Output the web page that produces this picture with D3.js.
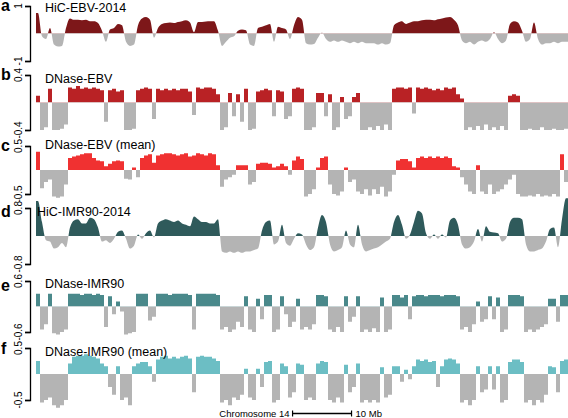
<!DOCTYPE html>
<html>
<head>
<meta charset="utf-8">
<script src="https://cdn.jsdelivr.net/npm/d3@7"></script>
<style>
body { margin: 0; background: #fff; }
svg { display: block; font-family: "Liberation Sans", Arial, sans-serif; }
</style>
</head>
<body>
<div id="chart"></div>
<script>
// track values, one per bin along chromosome 14
var hicEbv = [0.75,-0.1,-0.2,0.2,-0.4,-0.47,-0.45,0.2,0.55,0.5,
    0.5,0.48,0.5,0.45,0.45,0.38,0.1,-0.3,0.15,0.2,
    0.35,0.3,-0.3,-0.45,-0.4,0.3,0.55,0.6,0.5,-0.15,
    0.2,0.35,0.38,0.4,0.38,0.42,0.45,0.48,0.4,0.05,
    0.42,0.42,0.44,0.45,0.45,0.1,-0.45,-0.3,-0.15,-0.1,
    0.1,0.15,0.12,-0.4,-0.45,0.2,0.25,0.3,0.35,-0.3,
    0.25,0.2,0.15,-0.2,0.3,0.6,0.5,-0.35,-0.4,-0.38,
    -0.15,0.03,-0.2,-0.3,-0.25,-0.3,-0.25,-0.3,-0.35,-0.3,
    -0.35,-0.3,-0.35,-0.35,-0.35,-0.4,-0.35,-0.4,-0.35,0.3,
    0.4,0.45,0.35,0.4,0.45,0.45,0.48,0.5,0.5,0.48,
    0.52,0.55,0.58,0.6,0.5,0.3,-0.25,-0.35,-0.3,-0.4,
    -0.3,-0.25,-0.3,-0.2,0.05,-0.2,-0.35,-0.25,0.35,0.45,
    0.4,0.1,-0.3,-0.2,0.4,-0.2,-0.4,-0.35,-0.35,-0.3,
    -0.35,-0.3,-0.3];
var dnaseEbv = [0.1,-0.4,-0.36,0.2,-0.4,-0.4,-0.38,-0.32,0.22,0.2,
    0.24,0.2,0.22,0.2,0.22,0.2,0.18,-0.28,0.18,0.2,
    0.16,0.18,-0.4,-0.4,-0.38,0.18,0.2,0.22,0.2,-0.24,
    0.2,0.18,0.2,0.18,0.2,0.18,0.2,0.2,0.16,-0.18,
    0.22,0.2,0.22,0.22,0.2,0.12,-0.4,-0.36,0.14,-0.2,
    0.12,-0.28,0.2,-0.4,-0.38,0.16,0.18,0.2,0.18,-0.2,
    0.18,0.16,-0.24,-0.2,0.2,0.22,0.2,-0.4,-0.4,-0.36,
    0.14,0.14,-0.2,0.12,-0.4,-0.36,0.08,-0.24,-0.2,0.08,
    0.14,-0.4,-0.4,-0.36,-0.4,-0.34,-0.4,-0.32,-0.4,0.2,
    0.22,0.22,0.2,0.22,-0.16,0.22,0.2,0.22,0.2,0.18,
    0.2,0.18,0.22,0.2,0.22,0.12,0.06,-0.4,-0.36,-0.4,
    -0.34,-0.4,-0.32,-0.4,-0.36,-0.4,-0.34,-0.4,0.1,0.12,
    0.1,-0.4,-0.4,-0.38,-0.4,-0.4,-0.36,-0.4,-0.4,-0.38,
    -0.4,-0.4,-0.38];
var dnaseEbvMean = [0.38,-0.38,-0.25,-0.2,-0.55,-0.58,-0.55,-0.3,0.25,0.28,
    0.3,0.33,0.35,0.35,0.25,0.2,0.18,0.08,0.13,0.18,
    0.2,0.18,-0.18,-0.2,0.05,-0.15,0.25,0.3,0.33,0.15,
    0.3,0.33,0.35,0.35,0.33,0.3,0.33,0.35,0.28,0.3,
    0.35,0.33,0.3,0.35,0.33,0.1,-0.35,-0.2,-0.15,-0.1,
    0.1,0.1,0.1,-0.3,-0.25,0.13,0.15,0.15,0.13,0.05,
    0.08,0.13,0.08,-0.1,0.2,0.28,0.23,-0.55,-0.5,-0.4,
    0.05,0.25,0.28,-0.3,-0.5,-0.53,-0.45,0.05,-0.25,-0.2,
    -0.45,-0.5,-0.4,-0.53,-0.4,-0.5,-0.35,-0.55,-0.45,-0.1,
    0.2,0.23,0.23,0.18,0.05,0.25,0.28,0.25,0.28,0.25,
    0.28,0.25,0.28,0.25,0.08,0.05,-0.15,-0.3,-0.45,-0.5,
    0.1,-0.45,-0.5,-0.3,-0.5,-0.45,-0.4,-0.3,-0.2,-0.1,
    -0.5,-0.55,-0.55,-0.53,-0.55,-0.5,-0.55,-0.53,-0.55,-0.5,
    -0.55,0.33,-0.25];
var hicImr90 = [1.0,0.4,-0.12,-0.16,-0.36,-0.32,-0.2,-0.32,0.24,0.44,
    0.48,0.36,0.36,0.52,0.48,0.24,-0.16,-0.12,-0.2,-0.08,
    0.12,0.16,-0.08,-0.36,-0.28,0.04,-0.08,0.08,0.16,-0.04,
    0.36,0.44,0.48,0.44,0.4,0.44,0.36,0.32,0.28,0.56,
    0.48,0.4,0.4,0.36,0.36,0.48,-0.44,-0.48,-0.44,-0.48,
    -0.44,-0.48,-0.44,-0.44,-0.4,-0.36,0.16,0.4,0.44,-0.24,
    -0.16,0.32,-0.2,-0.28,-0.08,0.08,0.04,-0.24,-0.4,-0.32,
    0.24,0.6,0.4,-0.24,-0.44,-0.4,-0.32,0.16,-0.24,-0.32,
    0.32,-0.24,-0.44,-0.4,-0.36,-0.32,-0.24,-0.16,-0.08,0.4,
    0.6,0.32,-0.08,0.04,0.4,0.72,0.64,0.08,-0.08,0.04,
    -0.08,0.04,-0.04,0.44,0.52,0.32,-0.24,-0.36,-0.32,-0.16,
    0.2,-0.16,0.28,0.12,0.1,0.08,-0.16,-0.08,0.4,0.52,
    0.52,0.48,-0.24,-0.44,-0.44,-0.4,-0.36,-0.16,0.2,0.24,
    -0.32,0.48,1.08];
var dnaseImr90 = [0.3,-0.54,-0.42,0.3,-0.63,-0.66,-0.6,-0.54,0.3,0.3,
    0.3,0.27,0.3,0.3,0.27,0.3,0.27,-0.48,0.24,-0.18,
    0.12,-0.12,-0.66,-0.63,-0.6,0.3,0.3,0.3,-0.33,-0.24,
    0.3,0.3,0.3,0.27,0.3,0.3,0.3,0.3,0.27,-0.54,
    0.3,0.3,0.3,0.3,0.3,0.27,-0.54,-0.48,-0.6,-0.54,
    -0.36,-0.48,0.24,-0.54,-0.6,0.18,-0.3,0.27,0.27,-0.6,
    -0.54,0.24,-0.18,-0.48,-0.36,0.18,-0.54,-0.48,-0.54,-0.42,
    0.27,0.27,0.24,-0.54,-0.6,-0.48,-0.6,0.24,-0.36,-0.24,
    0.24,-0.6,-0.54,-0.6,-0.51,-0.6,0.21,-0.6,-0.54,0.27,
    0.27,0.21,0.27,-0.3,0.24,0.27,0.27,0.24,0.27,0.27,
    0.27,0.24,0.27,0.27,0.27,0.24,-0.54,-0.48,-0.6,-0.42,
    0.12,-0.36,-0.3,0.24,-0.3,0.21,-0.6,-0.54,0.27,0.27,
    0.27,0.24,-0.6,-0.54,-0.6,-0.54,-0.48,-0.42,0.18,0.18,
    -0.36,0.27,0.27];
var dnaseImr90Mean = [0.25,-0.55,-0.5,-0.45,-0.6,-0.65,-0.6,-0.5,0.2,0.33,
    0.35,0.35,0.38,0.35,0.33,0.3,0.2,0.15,-0.25,-0.4,
    0.15,-0.5,-0.45,-0.6,0.15,0.2,0.23,0.23,0.15,-0.15,
    0.28,0.33,0.35,0.3,0.33,0.3,0.33,0.35,0.3,-0.35,
    0.33,0.35,0.33,0.33,0.3,0.25,-0.55,-0.5,-0.6,-0.45,
    -0.5,-0.4,0.1,-0.45,-0.5,0.1,-0.25,0.23,0.25,-0.55,
    -0.5,0.2,0.15,-0.45,-0.35,0.2,0.18,-0.5,-0.45,-0.5,
    0.2,0.25,0.23,-0.5,-0.55,-0.45,-0.55,0.18,-0.35,-0.25,
    0.2,-0.55,-0.5,-0.55,-0.5,-0.55,0.13,-0.45,-0.4,0.15,
    0.15,-0.15,0.08,-0.1,0.15,0.28,0.25,0.28,0.23,0.25,
    -0.25,0.15,0.28,0.3,0.28,0.2,-0.55,-0.5,-0.6,-0.5,
    0.15,-0.35,-0.3,0.15,-0.3,0.15,-0.55,-0.5,0.23,0.28,
    0.28,0.23,-0.55,-0.5,-0.6,-0.5,-0.55,-0.4,0.15,0.13,
    -0.35,0.25,0.28];

var trackValues = [hicEbv, dnaseEbv, dnaseEbvMean, hicImr90, dnaseImr90, dnaseImr90Mean];
var trackNames = ["HiC-EBV-2014", "DNase-EBV", "DNase-EBV (mean)", "HiC-IMR90-2014", "DNase-IMR90", "DNase-IMR90 (mean)"];
var trackLetters = ["a", "b", "c", "d", "e", "f"];
var trackLimits = [1, 0.4, 0.5, 0.8, 0.6, 0.5];
var chromStart = 17.1, chromEnd = 107.3;   // Mb
var scaleBarStart = 60.6, scaleBarLength = 10;

var width = 568, height = 418;
var svg = d3.select("#chart").append("svg")
    .attr("width", width)
    .attr("height", height);
var defs = svg.append("defs");

var x = d3.scaleLinear()
    .domain([chromStart, chromEnd])
    .range([36, 568]);

// layout of each panel
var panels = [
    {top: 6,   bottom: 61,  titleX: 45, titleY: 11.5, letterY: 10.5, color: "#7d1719", step: false},
    {top: 75,  bottom: 130, titleX: 45, titleY: 82.5, letterY: 80,   color: "#b92225", step: true},
    {top: 146, bottom: 194, titleX: 45, titleY: 149,  letterY: 150.5, color: "#f03131", step: true},
    {top: 208, bottom: 264, titleX: 37, titleY: 216,  letterY: 216.5, color: "#2f5a5b", step: false},
    {top: 281, bottom: 332, titleX: 45, titleY: 287.5, letterY: 290.5, color: "#4a898b", step: true},
    {top: 348, bottom: 400, titleX: 45, titleY: 356,  letterY: 353.5, color: "#6cbec4", step: true}
];
var gray = "#b4b4b4";

trackValues.forEach(function(values, k) {
    var p = panels[k];
    var lim = trackLimits[k];
    var y = d3.scaleLinear().domain([-lim, lim]).range([p.bottom, p.top]);
    var binMb = (chromEnd - chromStart) / values.length;
    var pts;
    if (p.step) {
        pts = values.map(function(v, i) { return {pos: chromStart + i * binMb, v: v}; });
        pts.push({pos: chromEnd, v: values[values.length - 1]});
    } else {
        pts = values.map(function(v, i) { return {pos: chromStart + (i + 0.5) * binMb, v: v}; });
        pts.unshift({pos: chromStart, v: values[0]});
        pts.push({pos: chromEnd, v: values[values.length - 1]});
    }
    var area = d3.area()
        .x(function(d) { return x(d.pos); })
        .y0(y(0))
        .y1(function(d) { return y(d.v); })
        .curve(p.step ? d3.curveStepAfter : d3.curveMonotoneX);

    // clip positive / negative parts
    defs.append("clipPath").attr("id", "pos" + k)
        .append("rect").attr("x", 0).attr("y", 0).attr("width", width).attr("height", y(0));
    defs.append("clipPath").attr("id", "neg" + k)
        .append("rect").attr("x", 0).attr("y", y(0)).attr("width", width).attr("height", height - y(0));

    var g = svg.append("g");
    g.append("path")
        .attr("d", area(pts))
        .attr("fill", p.color)
        .attr("clip-path", "url(#pos" + k + ")");
    g.append("path")
        .attr("d", area(pts))
        .attr("fill", gray)
        .attr("clip-path", "url(#neg" + k + ")");

    // y axis bracket, labels drawn rotated below
    var yAxis = d3.axisLeft(y)
        .tickValues([-lim, lim])
        .tickSizeInner(5)
        .tickSizeOuter(5)
        .tickFormat("");
    var ax = svg.append("g")
        .attr("transform", "translate(30,0)")
        .call(yAxis);
    ax.selectAll("path, line").attr("stroke", "#000").attr("stroke-width", 1.3);
    ax.selectAll(".tick text").remove();
    [-lim, lim].forEach(function(v) {
        svg.append("text")
            .attr("transform", "translate(22," + y(v) + ") rotate(-90)")
            .attr("text-anchor", "middle")
            .attr("font-size", "10px")
            .text(String(v));
    });

    svg.append("text")
        .attr("x", 1)
        .attr("y", p.letterY)
        .attr("font-size", "16px")
        .attr("font-weight", "bold")
        .text(trackLetters[k]);
    svg.append("text")
        .attr("x", p.titleX)
        .attr("y", p.titleY)
        .attr("font-size", "12.5px")
        .text(trackNames[k]);
});

// scale bar
var barY = 413.5;
var sb = svg.append("g");
sb.append("text")
    .attr("x", x(scaleBarStart) - 3)
    .attr("y", 417)
    .attr("font-size", "9.5px")
    .attr("text-anchor", "end")
    .text("Chromosome 14");
sb.append("line")
    .attr("x1", x(scaleBarStart)).attr("x2", x(scaleBarStart + scaleBarLength))
    .attr("y1", barY).attr("y2", barY)
    .attr("stroke", "#000").attr("stroke-width", 1.5);
[scaleBarStart, scaleBarStart + scaleBarLength].forEach(function(d) {
    sb.append("line")
        .attr("x1", x(d)).attr("x2", x(d))
        .attr("y1", barY - 3).attr("y2", barY + 3)
        .attr("stroke", "#000").attr("stroke-width", 1.2);
});
sb.append("text")
    .attr("x", x(scaleBarStart + scaleBarLength) + 4)
    .attr("y", 417)
    .attr("font-size", "9.5px")
    .text("10 Mb");
</script>
</body>
</html>
